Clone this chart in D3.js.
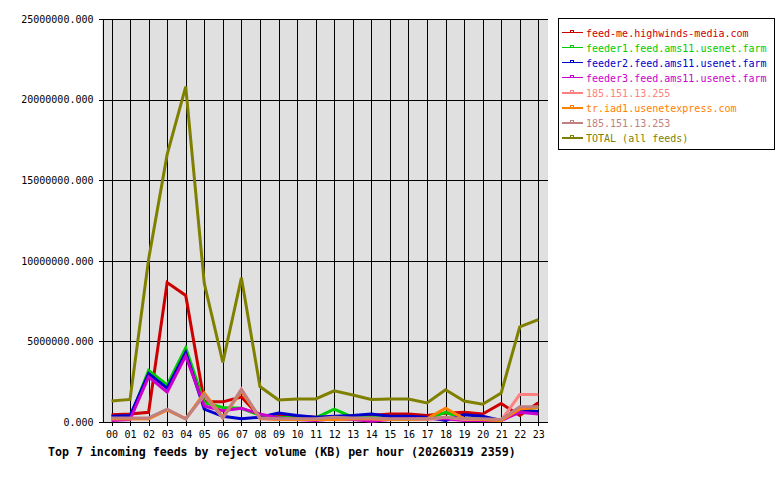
<!DOCTYPE html>
<html><head><meta charset="utf-8">
<script src="https://cdn.jsdelivr.net/npm/d3@7/dist/d3.min.js"></script>
<style>body{margin:0;background:#fff}svg{display:block}</style>
</head><body>
<script>
const hours = ["00","01","02","03","04","05","06","07","08","09","10","11","12","13","14","15","16","17","18","19","20","21","22","23"];
const seriesNames = ["feed-me.highwinds-media.com","feeder1.feed.ams11.usenet.farm","feeder2.feed.ams11.usenet.farm","feeder3.feed.ams11.usenet.farm","185.151.13.255","tr.iad1.usenetexpress.com","185.151.13.253","TOTAL (all feeds)"];
const seriesColors = ["#cc0000","#00cc00","#0000cc","#cc00cc","#ff8080","#ff8000","#c08080","#808000"];
const feedMe   = [450000,500000,600000,8650000,7850000,1250000,1250000,1550000,350000,400000,350000,300000,300000,400000,400000,500000,500000,400000,550000,600000,500000,1150000,400000,1200000];
const feeder1  = [200000,250000,3200000,2300000,4600000,1200000,900000,850000,400000,300000,250000,250000,800000,300000,300000,300000,200000,200000,600000,200000,200000,100000,800000,900000];
const feeder2  = [350000,400000,3000000,2100000,4300000,800000,350000,200000,300000,550000,400000,300000,350000,400000,500000,350000,350000,300000,100000,450000,350000,100000,700000,650000];
const feeder3  = [100000,150000,2800000,1850000,4100000,1000000,700000,850000,500000,250000,150000,100000,200000,150000,50000,150000,200000,200000,200000,100000,100000,100000,600000,500000];
const ip255    = [200000,200000,200000,750000,200000,1650000,250000,2050000,200000,150000,150000,150000,200000,200000,200000,150000,150000,150000,300000,150000,150000,100000,1700000,1700000];
const trIad1   = [200000,200000,200000,750000,200000,1800000,300000,1900000,250000,150000,150000,150000,150000,200000,200000,150000,150000,200000,850000,200000,150000,100000,800000,900000];
const ip253    = [250000,250000,250000,800000,200000,1700000,250000,2000000,250000,200000,200000,200000,300000,250000,250000,200000,200000,200000,300000,200000,200000,150000,950000,950000];
const total    = [1300000,1400000,10100000,16600000,20800000,8600000,3700000,8950000,2200000,1370000,1430000,1430000,1930000,1680000,1400000,1430000,1430000,1180000,2000000,1300000,1100000,1800000,5900000,6350000];
const yTicks = [0,5000000,10000000,15000000,20000000,25000000];
const title = "Top 7 incoming feeds by reject volume (KB) per hour (20260319 2359)";

const series = [feedMe,feeder1,feeder2,feeder3,ip255,trIad1,ip253,total];

const W=780,H=480;
const L=102,R=548,T=19,B=422;
const svg=d3.select("body").append("svg").attr("width",W).attr("height",H)
  .style("font-family","'DejaVu Sans Mono',monospace");

const x=d3.scalePoint().domain(hours).range([111.5,538.3]);
const y=d3.scaleLinear().domain([0,25000000]).range([B,T]);

svg.append("rect").attr("x",L).attr("y",T).attr("width",R-L).attr("height",B-T).attr("fill","#e0e0e0");

const grid=svg.append("g").attr("shape-rendering","crispEdges");
grid.selectAll("line.v").data(hours).join("line").attr("class","v")
  .attr("x1",d=>Math.round(x(d))+0.5).attr("x2",d=>Math.round(x(d))+0.5)
  .attr("y1",T).attr("y2",B).attr("stroke","#000");
grid.selectAll("line.h").data(yTicks).join("line").attr("class","h")
  .attr("x1",L).attr("x2",R).attr("y1",d=>Math.round(y(d))+0.5).attr("y2",d=>Math.round(y(d))+0.5).attr("stroke","#000");

// y axis
const yAx=svg.append("g").attr("transform",`translate(${L+0.5},0)`)
  .call(d3.axisLeft(y).tickValues(yTicks).tickFormat(d3.format(".3f")).tickSize(4).tickPadding(5));
yAx.selectAll("text").attr("font-size","10px").attr("fill","#000").style("font-family","'DejaVu Sans Mono',monospace");
yAx.select(".domain").attr("stroke","#000");
yAx.attr("shape-rendering","crispEdges");

// x axis
const xAx=svg.append("g").attr("transform",`translate(0,${B+0.5})`)
  .call(d3.axisBottom(x).tickSize(3).tickPadding(5).tickSizeOuter(0));
xAx.select(".domain").attr("d",`M${L},0H${R}`).attr("stroke","#000");
xAx.selectAll("text").attr("font-size","10px").attr("fill","#000").style("font-family","'DejaVu Sans Mono',monospace");
xAx.attr("shape-rendering","crispEdges");

const line=d3.line().x((d,i)=>x(hours[i])).y(d=>y(d));
svg.append("g").selectAll("path").data(series).join("path")
  .attr("d",d=>line(d)).attr("fill","none")
  .attr("stroke",(d,i)=>seriesColors[i]).attr("stroke-width",3).attr("stroke-linejoin","miter");

// legend
const lg=svg.append("g");
lg.append("rect").attr("x",558.5).attr("y",18.5).attr("width",216).attr("height",131)
  .attr("fill","#fff").attr("stroke","#000").attr("shape-rendering","crispEdges");
const rows=lg.selectAll("g.r").data(seriesNames).join("g").attr("class","r")
  .attr("transform",(d,i)=>`translate(0,${32.5+i*15.07})`);
rows.append("line").attr("x1",562).attr("x2",583).attr("y1",0).attr("y2",0)
  .attr("stroke",(d,i)=>seriesColors[i]).attr("stroke-width",1.5).attr("shape-rendering","crispEdges");
rows.append("rect").attr("x",570.5).attr("y",-2.5).attr("width",3).attr("height",2.5)
  .attr("fill","none").attr("stroke",(d,i)=>seriesColors[i]).attr("stroke-width",1).attr("shape-rendering","crispEdges");
rows.append("text").attr("x",586).attr("y",4).attr("font-size","10px")
  .attr("fill",(d,i)=>seriesColors[i]).text(d=>d);

svg.append("text").attr("x",48).attr("y",456).attr("font-size","11.6px").attr("font-weight","bold")
  .attr("fill","#000").text(title);
</script>
</body></html>
